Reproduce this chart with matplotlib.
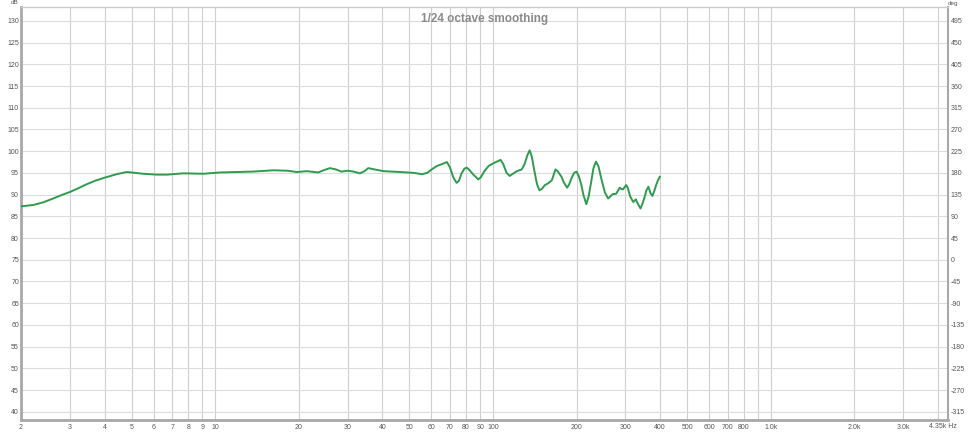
import matplotlib
matplotlib.use("Agg")
import matplotlib.pyplot as plt

plt.rcParams['font.family'] = ['Liberation Sans', 'DejaVu Sans']
plt.rcParams['axes.unicode_minus'] = False

# frequency response (Hz, dB)
freq = [2.0, 2.21, 2.4, 2.61, 2.8, 3.0, 3.2, 3.45, 3.7, 4.0, 4.42, 4.8, 5.0,
        5.5, 6.16, 6.7, 7.7, 9.05, 10.4, 13.7, 16.2, 18.2, 19.7, 21.4, 23.5,
        24.8, 25.9, 27.2, 28.5, 30.0, 31.5, 33.2, 34.5, 35.6, 37.5, 40.4,
        46.4, 52.0, 55.6, 58.0, 60.5, 62.9, 65.5, 68.3, 70.0, 72.0, 74.0,
        75.5, 77.0, 79.0, 80.5, 82.0, 85.0, 88.6, 90.5, 93.0, 96.5, 101,
        106.6, 109, 112, 115, 118, 122, 127, 130, 133, 135.6, 138, 141, 144,
        147, 150, 154, 158, 163, 166, 168, 171, 176.6, 180, 185, 188, 192,
        196, 200, 204, 208, 212, 217, 221, 226, 230, 235, 240, 246, 253, 260,
        265, 270, 278, 286, 290, 294, 302, 306, 312, 320, 327, 333, 340, 346,
        352, 357, 363, 369, 375, 381, 387, 393, 399]
spl = [87.3, 87.6, 88.2, 89.1, 89.9, 90.6, 91.4, 92.4, 93.2, 93.9, 94.7, 95.2,
       95.1, 94.8, 94.6, 94.6, 94.9, 94.8, 95.1, 95.3, 95.6, 95.5, 95.2, 95.4,
       95.1, 95.7, 96.1, 95.8, 95.3, 95.5, 95.3, 94.9, 95.4, 96.1, 95.8, 95.4,
       95.2, 95.0, 94.7, 95.0, 95.9, 96.6, 97.0, 97.5, 96.3, 94.0, 92.7, 93.2,
       94.8, 96.0, 96.2, 95.8, 94.6, 93.5, 94.0, 95.3, 96.6, 97.3, 98.0, 97.0,
       95.0, 94.3, 94.8, 95.4, 95.8, 97.0, 99.0, 100.2, 98.8, 95.5, 92.5,
       91.0, 91.3, 92.2, 92.6, 93.3, 94.8, 95.8, 95.4, 94.1, 92.8, 91.6, 92.3,
       93.8, 95.0, 95.3, 94.2, 92.3, 89.8, 87.8, 89.5, 93.0, 96.0, 97.6, 96.5,
       93.5, 90.5, 89.1, 89.6, 90.1, 90.2, 91.6, 91.3, 91.2, 92.2, 91.5, 89.6,
       88.3, 88.9, 87.8, 86.8, 88.0, 89.5, 91.0, 91.8, 90.4, 89.7, 90.8, 92.2,
       93.3, 94.1]

grid_freqs = [2, 3, 4, 5, 6, 7, 8, 9, 10, 20, 30, 40, 50, 60, 70, 80, 90, 100,
              200, 300, 400, 500, 600, 700, 800, 900, 1000, 2000, 3000, 4000]
tick_freqs = [2, 3, 4, 5, 6, 7, 8, 9, 10, 20, 30, 40, 50, 60, 70, 80, 90, 100,
              200, 300, 400, 500, 600, 700, 800, 1000, 2000, 3000]
tick_labels = ['2', '3', '4', '5', '6', '7', '8', '9', '10', '20', '30', '40',
               '50', '60', '70', '80', '90', '100', '200', '300', '400', '500',
               '600', '700', '800', '1.0k', '2.0k', '3.0k']
db_ticks = list(range(40, 131, 5))
deg_ticks = list(range(-315, 496, 45))

fig = plt.figure(figsize=(9.75, 4.32), dpi=100)
ax = fig.add_axes([21/975, 1-420/432, 927/975, 413/432])

ax.set_xscale('log')
ax.set_xlim(2, 4350)
ax.set_ylim(38.1, 133.2)

for f in grid_freqs:
    ax.axvline(f, color='#cfcfcf', lw=0.8, zorder=0)
for d in db_ticks:
    ax.axhline(d, color='#dcdcdc', lw=0.8, zorder=0)

ax.plot(freq, spl, color='#2f9b4f', lw=1.4, zorder=3, solid_joinstyle='round')

ax.set_xticks(tick_freqs)
ax.set_xticklabels(tick_labels)
ax.xaxis.set_minor_locator(matplotlib.ticker.NullLocator())
ax.set_yticks(db_ticks)
ax.tick_params(axis='both', length=0, labelsize=5, labelcolor='#555555')
ax.tick_params(axis='x', pad=3)
ax.tick_params(axis='y', pad=1.5)

for side in ['left', 'bottom']:
    ax.spines[side].set_color('#a8a8a8')
    ax.spines[side].set_linewidth(2)
ax.spines['top'].set_color('#cccccc')
ax.spines['top'].set_linewidth(1)
ax.spines['right'].set_color('#a8a8a8')
ax.spines['right'].set_linewidth(1.5)

ax2 = ax.twinx()
ax2.set_ylim(9 * (38.1 - 75), 9 * (133.2 - 75))
ax2.set_yticks(deg_ticks)
ax2.tick_params(axis='y', length=0, labelsize=5, labelcolor='#555555', pad=2)
for sp in ax2.spines.values():
    sp.set_visible(False)

ax.text(0.5, 0.985, '1/24 octave smoothing', transform=ax.transAxes,
        ha='center', va='top', fontsize=8.5, fontweight='bold', color='#8a8a8a')
fig.text(14.5/975, 1-3/432, 'dB', ha='center', va='center', fontsize=4.5, color='#555555')
fig.text(953/975, 1-3/432, 'deg', ha='center', va='center', fontsize=4.5, color='#555555')
fig.text(957/975, 1-426.5/432, '4.35k Hz', ha='right', va='center', fontsize=5, color='#555555')

fig.savefig('out.png', dpi=100)
